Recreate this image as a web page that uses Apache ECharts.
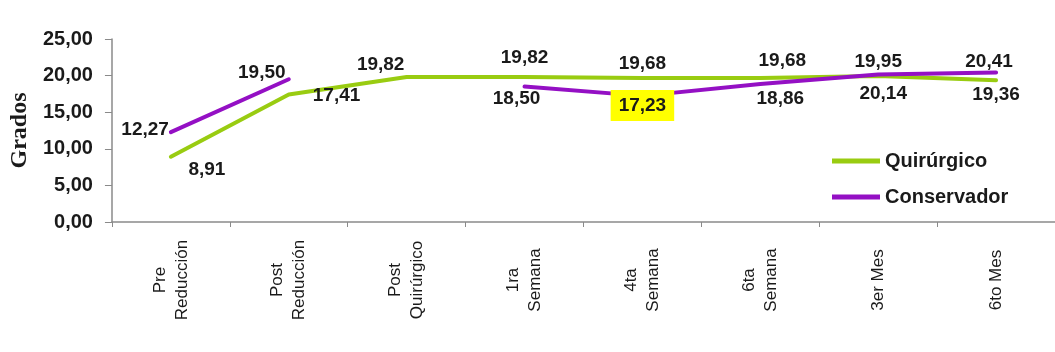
<!DOCTYPE html>
<html lang="es">
<head>
    <meta charset="UTF-8">
    <title>Grados - Quirúrgico vs Conservador</title>
    <style type="text/css">
        *{ margin: 0; padding: 0; }
        #main{ width: 1055px; height: 352px; background: #fff; }
    </style>
</head>
<body>
    <div id="main"></div>
    <script src="https://cdn.jsdelivr.net/npm/echarts@6/dist/echarts.min.js"></script>
    <script type="text/javascript">
        var categories = ['Pre\nReducción', 'Post\nReducción', 'Post\nQuirúrgico', '1ra\nSemana',
            '4ta\nSemana', '6ta\nSemana', '3er Mes', '6to Mes'];
        var quirurgico = [8.91, 17.41, 19.82, 19.82, 19.68, 19.68, 19.95, 19.36];
        var conservador = [12.27, 19.50, null, 18.50, 17.23, 18.86, 20.14, 20.41];
        var yTicks = [0, 5, 10, 15, 20, 25];

        // donde va cada etiqueta
        var quirPos = ['bottom', 'right', 'top', 'top', 'top', 'top', 'top', 'bottom'];
        var quirOff = [[36, -2], [19, 1], [-26, 2], [0, -5], [0, 0], [22, -3], [0, 0], [0, 0]];
        var consPos = ['left', 'top', null, 'bottom', 'bottom', 'bottom', 'bottom', 'top'];
        var consOff = [[3, -2], [-27, 8], null, [-8, -2], [0, -11], [20, 0], [5, 5], [-7, 4]];

        var green = '#99cc11';
        var purple = '#9410c4';
        var font = '"Liberation Sans", Arial, sans-serif';

        function fmt(v) {
            return v.toFixed(2).replace('.', ',');
        }

        function buildData(values, pos, off, highlight) {
            return values.map(function (v, i) {
                if (v == null) return '-';
                var label = { position: pos[i], offset: off[i] };
                if (i === highlight) {
                    label.backgroundColor = '#ffff00';
                    label.padding = [6, 8];
                }
                return { value: v, label: label };
            });
        }

        var labelStyle = {
            show: true,
            fontFamily: font,
            fontWeight: 'bold',
            fontSize: 19,
            color: '#1a1a1a',
            distance: 5,
            formatter: function (p) { return fmt(p.value); }
        };

        var myChart = echarts.init(document.getElementById('main'));
        var option = {
            animation: false,
            grid: { left: 108, right: 0, top: 39, bottom: 130 },
            legend: {
                orient: 'vertical',
                left: 832,
                top: 151,
                padding: 0,
                itemGap: 16,
                itemWidth: 48,
                itemHeight: 5,
                icon: 'rect',
                textStyle: { fontFamily: font, fontWeight: 'bold', fontSize: 20, color: '#1a1a1a' },
                data: ['Quirúrgico', 'Conservador']
            },
            xAxis: {
                type: 'category',
                data: categories,
                boundaryGap: true,
                axisLine: { lineStyle: { color: '#8a8a8a', width: 1.5 } },
                axisTick: { show: true, length: 5, lineStyle: { color: '#8a8a8a' } },
                axisLabel: {
                    interval: 0,
                    rotate: 90,
                    align: 'center',
                    verticalAlign: 'middle',
                    margin: 58,
                    fontFamily: font,
                    fontSize: 17,
                    lineHeight: 22,
                    color: '#1a1a1a'
                }
            },
            yAxis: {
                type: 'value',
                min: yTicks[0],
                max: yTicks[yTicks.length - 1],
                interval: yTicks[1] - yTicks[0],
                name: 'Grados',
                nameLocation: 'middle',
                nameRotate: 90,
                nameGap: 74,
                nameTextStyle: { fontFamily: '"Liberation Serif", "Times New Roman", serif', fontWeight: 'bold', fontSize: 24, color: '#1a1a1a' },
                splitLine: { show: false },
                axisLine: { show: true, lineStyle: { color: '#8a8a8a', width: 1.5 } },
                axisTick: { show: true, length: 7, lineStyle: { color: '#8a8a8a' } },
                axisLabel: {
                    margin: 19,
                    fontFamily: font,
                    fontWeight: 'bold',
                    fontSize: 20,
                    color: '#1a1a1a',
                    formatter: function (v) { return fmt(v); }
                }
            },
            series: [{
                name: 'Quirúrgico',
                type: 'line',
                symbol: 'circle',
                symbolSize: 0,
                showSymbol: true,
                color: green,
                lineStyle: { width: 4, color: green, cap: 'round' },
                label: labelStyle,
                data: buildData(quirurgico, quirPos, quirOff, -1)
            }, {
                name: 'Conservador',
                type: 'line',
                symbol: 'circle',
                symbolSize: 0,
                showSymbol: true,
                color: purple,
                connectNulls: false,
                lineStyle: { width: 4, color: purple, cap: 'round' },
                label: labelStyle,
                data: buildData(conservador, consPos, consOff, 4)
            }]
        };
        myChart.setOption(option);
    </script>
</body>
</html>
